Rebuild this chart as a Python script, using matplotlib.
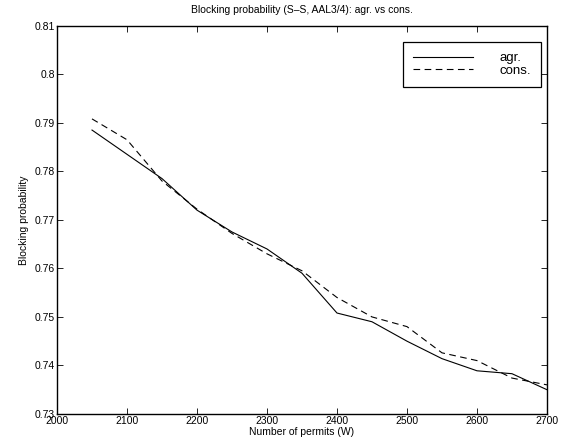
import matplotlib.pyplot as plt

plt.rcParams['font.family'] = ['Liberation Sans', 'DejaVu Sans']

# Data
permits = [2050, 2100, 2150, 2200, 2250, 2300, 2350,
           2400, 2450, 2500, 2550, 2600, 2650, 2700]
agr = [0.7885, 0.7835, 0.7785, 0.7720, 0.7675, 0.7640, 0.7590,
       0.7508, 0.7490, 0.7450, 0.7414, 0.7389, 0.7383, 0.7350]
cons = [0.7908, 0.7865, 0.7780, 0.7722, 0.7672, 0.7630, 0.7595,
        0.7540, 0.7500, 0.7480, 0.7426, 0.7410, 0.7374, 0.7360]

xticks = [2000, 2100, 2200, 2300, 2400, 2500, 2600, 2700]
yticks = [0.73, 0.74, 0.75, 0.76, 0.77, 0.78, 0.79, 0.8, 0.81]
ytick_labels = ['0.73', '0.74', '0.75', '0.76', '0.77', '0.78', '0.79', '0.8', '0.81']

fig = plt.figure(figsize=(5.61, 4.43), dpi=100)
ax = fig.add_axes([0.1016, 0.0655, 0.8734, 0.8765])

ax.plot(permits, agr, color='k', linewidth=0.8, label='agr.')
ax.plot(permits, cons, color='k', linewidth=0.8, linestyle=(0, (6, 4)), label='cons.')

ax.set_xlim(2000, 2700)
ax.set_ylim(0.73, 0.81)
ax.set_xticks(xticks)
ax.set_yticks(yticks)
ax.set_yticklabels(ytick_labels)
ax.tick_params(direction='in', top=True, right=True, length=4, width=0.6,
               labelsize=7.5, pad=1.5)
for s in ax.spines.values():
    s.set_linewidth(1.0)

ax.set_title('Blocking probability (S\u2013S, AAL3/4): agr. vs cons.', fontsize=7.5, pad=9)
ax.set_xlabel('Number of permits (W)', fontsize=7.5, labelpad=1)
ax.set_ylabel('Blocking probability', fontsize=7.5, labelpad=4)

leg = ax.legend(loc='upper right', bbox_to_anchor=(0.988, 0.958), borderaxespad=0,
                fontsize=9.5, handlelength=4.6, handletextpad=2.0,
                fancybox=False, framealpha=1, edgecolor='k', borderpad=0.75,
                labelspacing=0.05)
leg.get_frame().set_linewidth(0.9)

fig.savefig('out.png', dpi=100)
